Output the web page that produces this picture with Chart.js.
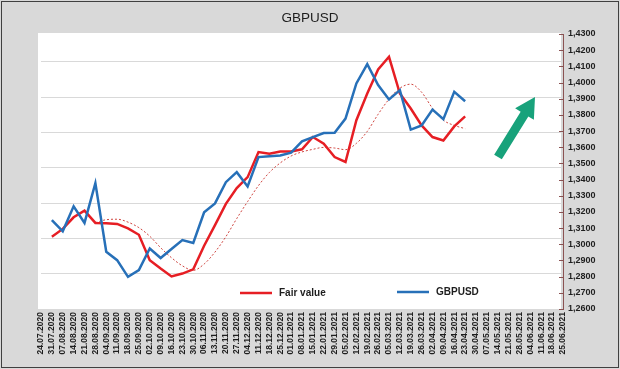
<!DOCTYPE html>
<html>
<head>
<meta charset="utf-8">
<script src="https://cdn.jsdelivr.net/npm/chart.js@4.4.0/dist/chart.umd.min.js"></script>
<style>
  html, body { margin: 0; padding: 0; background: #fff; }
  #wrap { width: 620px; height: 369px; }
</style>
</head>
<body>
<div id="wrap"><canvas id="fvChart" width="620" height="369"></canvas></div>
<script>
// weekly dates on the category axis
const labels = [
  "24.07.2020", "31.07.2020", "07.08.2020", "14.08.2020", "21.08.2020", "28.08.2020",
  "04.09.2020", "11.09.2020", "18.09.2020", "25.09.2020", "02.10.2020", "09.10.2020",
  "16.10.2020", "23.10.2020", "30.10.2020", "06.11.2020", "13.11.2020", "20.11.2020",
  "27.11.2020", "04.12.2020", "11.12.2020", "18.12.2020", "25.12.2020", "01.01.2021",
  "08.01.2021", "15.01.2021", "22.01.2021", "29.01.2021", "05.02.2021", "12.02.2021",
  "19.02.2021", "26.02.2021", "05.03.2021", "12.03.2021", "19.03.2021", "26.03.2021",
  "02.04.2021", "09.04.2021", "16.04.2021", "23.04.2021", "30.04.2021", "07.05.2021",
  "14.05.2021", "21.05.2021", "28.05.2021", "04.06.2021", "11.06.2021", "18.06.2021",
  "25.06.2021"
];

const fairValue = [
  null,
  1.3047, 1.3095, 1.3167, 1.3208, 1.3132, 1.3130, 1.3126, 1.3098, 1.3059, 1.2902,
  1.2850, 1.2801, 1.2819, 1.2845, 1.2991, 1.3119, 1.3250, 1.3347, 1.3415, 1.3570,
  1.3560, 1.3574, 1.3574, 1.3587, 1.3663, 1.3622, 1.3539, 1.3509, 1.3767, 1.3932,
  1.4081, 1.4159, 1.3932, 1.3839, 1.3735, 1.3663, 1.3642, 1.3729, 1.3791
];

const gbpusd = [
  null,
  1.3150, 1.3080, 1.3235, 1.3132, 1.3378, 1.2954, 1.2902, 1.2799, 1.2840, 1.2974,
  1.2915, 1.2971, 1.3026, 1.3008, 1.3198, 1.3253, 1.3384, 1.3446, 1.3357, 1.3539,
  1.3545, 1.3549, 1.3566, 1.3636, 1.3663, 1.3688, 1.3689, 1.3777, 1.3994, 1.4114,
  1.3984, 1.3895, 1.3953, 1.3709, 1.3735, 1.3833, 1.3773, 1.3942, 1.3884
];

// dotted average of fair value
const fairAvg = [
  null, null, null, null, null,
  1.3134, 1.3152, 1.3155, 1.3137, 1.3103, 1.3050, 1.2979, 1.2917, 1.2867, 1.2839,
  1.2878, 1.2952, 1.3047, 1.3159, 1.3264, 1.3363, 1.3444, 1.3503, 1.3546, 1.3571,
  1.3587, 1.3599, 1.3595, 1.3585, 1.3624, 1.3698, 1.3804, 1.3897, 1.3965, 1.3990,
  1.3940, 1.3841, 1.3767, 1.3735, 1.3715
];

const yMin = 1.26, yMax = 1.43, yStep = 0.01;

const RED = "#e61e24";
const BLUE = "#2770b8";
const AXIS = "#8a5252";
const TXT = "#1e1e1e";

// grey frame, white plot, title, legend, arrow, inner ticks
const decor = {
  id: "decor",
  beforeDraw(chart) {
    const { ctx, chartArea: a } = chart;
    ctx.save();
    ctx.fillStyle = "#d9d9d9";
    ctx.fillRect(0, 0, chart.width, chart.height);
    ctx.strokeStyle = "#404040";
    ctx.lineWidth = 1;
    ctx.strokeRect(1.5, 1.5, chart.width - 3, chart.height - 3);
    ctx.fillStyle = "#ffffff";
    ctx.fillRect(a.left - 3, a.top - 1, a.right - a.left + 1, a.bottom - a.top + 1);
    ctx.restore();
  },
  afterDraw(chart) {
    const { ctx, chartArea: a } = chart;
    const ys = chart.scales.y;
    ctx.save();
    // small ticks on the inner side of the right axis
    ctx.strokeStyle = AXIS;
    ctx.lineWidth = 1;
    ys.ticks.forEach(t => {
      const py = Math.round(ys.getPixelForValue(t.value)) + 0.5;
      ctx.beginPath();
      ctx.moveTo(a.right - 4, py);
      ctx.lineTo(a.right, py);
      ctx.stroke();
    });

    // title
    ctx.fillStyle = TXT;
    ctx.font = "13.5px 'Liberation Sans', Arial, sans-serif";
    ctx.textAlign = "center";
    ctx.textBaseline = "middle";
    ctx.fillText("GBPUSD", 310, 18);

    // legend
    ctx.font = "bold 10px 'Liberation Sans', Arial, sans-serif";
    ctx.textAlign = "left";
    const items = [
      { ds: chart.data.datasets[0], x: 240, y: 293 },
      { ds: chart.data.datasets[1], x: 397, y: 292 }
    ];
    items.forEach(it => {
      ctx.strokeStyle = it.ds.borderColor;
      ctx.lineWidth = 2.5;
      ctx.beginPath();
      ctx.moveTo(it.x, it.y);
      ctx.lineTo(it.x + 32, it.y);
      ctx.stroke();
      ctx.fillStyle = TXT;
      ctx.fillText(it.ds.label, it.x + 39, it.y);
    });

    // green arrow
    const tx = 498, ty = 157, hx = 535, hy = 97;
    const dx = hx - tx, dy = hy - ty, len = Math.hypot(dx, dy);
    const ux = dx / len, uy = dy / len, nx = -uy, ny = ux;
    const headL = 20, headW = 11, shaftW = 4.5;
    const bx = hx - ux * headL, by = hy - uy * headL;
    ctx.fillStyle = "#18a27b";
    ctx.beginPath();
    ctx.moveTo(tx + nx * shaftW, ty + ny * shaftW);
    ctx.lineTo(bx + nx * shaftW, by + ny * shaftW);
    ctx.lineTo(bx + nx * headW, by + ny * headW);
    ctx.lineTo(hx, hy);
    ctx.lineTo(bx - nx * headW, by - ny * headW);
    ctx.lineTo(bx - nx * shaftW, by - ny * shaftW);
    ctx.lineTo(tx - nx * shaftW, ty - ny * shaftW);
    ctx.closePath();
    ctx.fill();
    ctx.restore();
  }
};

new Chart(document.getElementById("fvChart"), {
  type: "line",
  plugins: [decor],
  data: {
    labels: labels,
    datasets: [
      {
        label: "Fair value",
        data: fairValue,
        borderColor: RED,
        borderWidth: 2.5,
        pointRadius: 0,
        tension: 0,
        yAxisID: "y",
        order: 2
      },
      {
        label: "GBPUSD",
        data: gbpusd,
        borderColor: BLUE,
        borderWidth: 2.5,
        pointRadius: 0,
        tension: 0,
        yAxisID: "y",
        order: 1
      },
      {
        label: "avg",
        data: fairAvg,
        borderColor: "#d0453f",
        borderWidth: 1,
        borderDash: [2, 2],
        pointRadius: 0,
        tension: 0.4,
        cubicInterpolationMode: "monotone",
        yAxisID: "y",
        order: 3
      }
    ]
  },
  options: {
    responsive: false,
    animation: false,
    devicePixelRatio: 1,
    layout: { padding: { left: 41, right: 7, top: 34, bottom: 12 } },
    plugins: {
      legend: { display: false },
      title: { display: false },
      tooltip: { enabled: false }
    },
    scales: {
      x: {
        type: "category",
        offset: false,
        grid: { display: false, drawTicks: false, tickLength: 0 },
        border: { display: false },
        ticks: {
          autoSkip: false,
          maxRotation: 90,
          minRotation: 90,
          padding: 3,
          color: TXT,
          font: { family: "'Liberation Sans', Arial, sans-serif", size: 8.5, weight: "bold" }
        },
        afterFit(s) { s.height = 48; }
      },
      yg: {
        position: "left",
        min: 0,
        max: 7.79,
        ticks: { display: false, stepSize: 1 },
        grid: {
          drawTicks: false,
          color: c => Number.isInteger(c.tick.value) ? "#d9d9d9" : "rgba(0,0,0,0)"
        },
        border: { display: false },
        afterFit(s) { s.width = 0; }
      },
      y: {
        position: "right",
        min: yMin,
        max: yMax,
        ticks: {
          stepSize: yStep,
          padding: 5,
          color: TXT,
          font: { family: "'Liberation Sans', Arial, sans-serif", size: 9, weight: "bold" },
          callback: v => v.toFixed(4).replace(".", ",")
        },
        grid: { drawOnChartArea: false, drawTicks: false },
        border: { color: AXIS, width: 1 },
        afterFit(s) { s.width = 50; }
      }
    }
  }
});
</script>
</body>
</html>
